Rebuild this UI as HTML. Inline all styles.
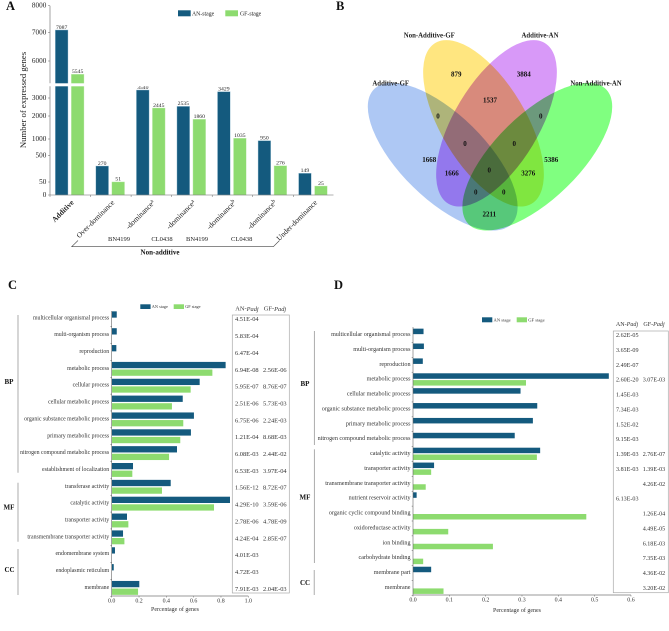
<!DOCTYPE html>
<html lang="en">
<head>
<meta charset="utf-8">
<title>Expressed genes figure</title>
<style>
html,body{margin:0;padding:0;background:#fff;width:669px;height:631px;overflow:hidden}
svg{display:block;font-family:"Liberation Serif",serif;filter:blur(0.35px)}
.venn-shape{mix-blend-mode:multiply}
.venn-num{font-size:7px;font-weight:bold;text-anchor:middle;dominant-baseline:central;fill:#111}
.venn-name{font-size:6.8px;font-weight:bold;text-anchor:middle;dominant-baseline:central;fill:#222}
.panel{font-size:12.5px;font-weight:bold;fill:#111}
.sub{font-size:6.5px;text-anchor:middle;dominant-baseline:central;fill:#222}
.pad-head{font-size:6.3px;text-anchor:middle;dominant-baseline:central;fill:#333}
</style>
</head>
<body>
<svg id="figure" width="669" height="631" viewBox="0 0 669 631" xmlns="http://www.w3.org/2000/svg">
  <rect width="669" height="631" fill="#fff"/>

  <text class="panel" x="6" y="10">A</text>
  <text class="panel" x="336" y="10">B</text>
  <text class="panel" x="8" y="289">C</text>
  <text class="panel" x="334" y="289">D</text>

  <g id="panel-a"></g>
  <text transform="translate(26,100) rotate(-90)" font-size="8.7" text-anchor="middle" fill="#222">Number of expressed genes</text>
  <rect x="178" y="10.3" width="12.7" height="6" fill="#145a7e"/>
  <text x="192" y="15.5" font-size="5.8" fill="#222">AN-stage</text>
  <rect x="225.3" y="10.3" width="12.7" height="6" fill="#8ddb6f"/>
  <text x="240" y="15.5" font-size="5.8" fill="#222">GF-stage</text>
  <text class="sub" x="119" y="239.3">BN4199</text>
  <text class="sub" x="162" y="239.3">CL0438</text>
  <text class="sub" x="197" y="239.3">BN4199</text>
  <text class="sub" x="241.7" y="239.3">CL0438</text>
  <path d="M78 240.5L71.7 246.7H273.3L279.5 240.5" fill="none" stroke="#444" stroke-width="0.6"/>
  <text x="160" y="252.7" font-size="7" font-weight="bold" text-anchor="middle" dominant-baseline="central" fill="#111">Non-additive</text>

  <g id="venn" style="isolation:isolate">
    <ellipse class="venn-shape" cx="442.7" cy="156.7" rx="96.3" ry="42.3" transform="rotate(44.4 442.7 156.7)" fill="#aec8f4"/>
    <ellipse class="venn-shape" cx="483.5" cy="123.3" rx="93.7" ry="42.3" transform="rotate(59 483.5 123.3)" fill="#ffe680"/>
    <ellipse class="venn-shape" cx="496.5" cy="123.3" rx="93.7" ry="42.3" transform="rotate(-59 496.5 123.3)" fill="#d899f8"/>
    <ellipse class="venn-shape" cx="537.3" cy="156.7" rx="96.3" ry="42.3" transform="rotate(-44.4 537.3 156.7)" fill="#80ff80"/>
  </g>
  <text class="venn-name" x="429.3" y="36">Non-Additive-GF</text>
  <text class="venn-name" x="540" y="36">Additive-AN</text>
  <text class="venn-name" x="390.7" y="84">Additive-GF</text>
  <text class="venn-name" x="596" y="84">Non-Additive-AN</text>
  <text class="venn-num" x="456.3" y="74.7">879</text>
  <text class="venn-num" x="523.7" y="74.7">3884</text>
  <text class="venn-num" x="490" y="100.7">1537</text>
  <text class="venn-num" x="438" y="116.7">0</text>
  <text class="venn-num" x="540.7" y="116.7">0</text>
  <text class="venn-num" x="465" y="144">0</text>
  <text class="venn-num" x="514.3" y="144">0</text>
  <text class="venn-num" x="429.3" y="160">1668</text>
  <text class="venn-num" x="551.3" y="160">5386</text>
  <text class="venn-num" x="489.3" y="170.3">0</text>
  <text class="venn-num" x="451.7" y="173.3">1666</text>
  <text class="venn-num" x="528.3" y="173.3">3276</text>
  <text class="venn-num" x="475.7" y="192.7">0</text>
  <text class="venn-num" x="503.7" y="192.7">0</text>
  <text class="venn-num" x="489.3" y="214.7">2211</text>

  <g id="panel-c"></g>
  <g id="panel-d"></g>
</svg>

<script>
// Panel A data
const aGroups = ['Additive', 'Over-dominance', '-dominance', '-dominance', '-dominance', '-dominance', 'Under-dominance'];
const aSuperscripts = ['', '', 'a', 'a', 'b', 'b', ''];
const aAnValues = [7087, 270, 3540, 2535, 3429, 950, 149];
const aGfValues = [5545, 51, 2445, 1860, 1035, 276, 25];
const aYTicks = [0, 50, 500, 1000, 2000, 3000, 6000, 7000, 8000];

// Panel C data
const cCategories = ['multicellular organismal process', 'multi-organism process', 'reproduction', 'metabolic process', 'cellular process', 'cellular metabolic process', 'organic substance metabolic process', 'primary metabolic process', 'nitrogen compound metabolic process', 'establishment of localization', 'transferase activity', 'catalytic activity', 'transporter activity', 'transmembrane transporter activity', 'endomembrane system', 'endoplasmic reticulum', 'membrane'];
const cAnValues = [0.037, 0.037, 0.034, 0.834, 0.644, 0.52, 0.602, 0.58, 0.478, 0.156, 0.432, 0.866, 0.112, 0.083, 0.024, 0.015, 0.202];
const cGfValues = [null, null, null, 0.737, 0.578, 0.441, 0.524, 0.502, 0.42, 0.151, 0.368, 0.749, 0.122, 0.093, null, null, 0.193];
const cAnPadj = ['4.51E-04', '5.83E-04', '6.47E-04', '6.94E-08', '5.95E-07', '2.51E-06', '6.75E-06', '1.21E-04', '6.08E-03', '6.53E-03', '1.56E-12', '4.29E-10', '2.78E-06', '4.24E-04', '4.01E-03', '4.72E-03', '7.91E-03'];
const cGfPadj = ['', '', '', '2.56E-06', '8.76E-07', '5.73E-03', '2.24E-03', '8.68E-03', '2.44E-02', '3.97E-04', '8.72E-07', '3.59E-06', '4.78E-09', '2.85E-07', '', '', '2.04E-03'];
const cXTicks = [0, 0.2, 0.4, 0.6, 0.8, 1];

// Panel D data
const dCategories = ['multicellular organismal process', 'multi-organism process', 'reproduction', 'metabolic process', 'cellular metabolic process', 'organic substance metabolic process', 'primary metabolic process', 'nitrogen compound metabolic process', 'catalytic activity', 'transporter activity', 'transmembrane transporter activity', 'nutrient reservoir activity', 'organic cyclic compound binding', 'oxidoreductase activity', 'ion binding', 'carbohydrate binding', 'membrane part', 'membrane'];
const dAnValues = [0.029, 0.03, 0.027, 0.539, 0.296, 0.342, 0.33, 0.28, 0.35, 0.058, null, 0.01, null, null, null, null, 0.05, null];
const dGfValues = [null, null, null, 0.311, null, null, null, null, 0.341, 0.05, 0.035, null, 0.477, 0.097, 0.22, 0.028, null, 0.084];
const dAnPadj = ['2.62E-05', '3.65E-09', '2.49E-07', '2.60E-20', '1.45E-03', '7.34E-03', '1.52E-02', '9.15E-03', '1.39E-03', '3.81E-03', '', '6.13E-03', '', '', '', '', '', ''];
const dGfPadj = ['', '', '', '3.07E-03', '', '', '', '', '2.76E-07', '1.39E-03', '4.26E-02', '', '1.26E-04', '4.49E-05', '6.18E-03', '7.35E-03', '4.36E-02', '3.20E-02'];
const dXTicks = [0, 0.1, 0.2, 0.3, 0.4, 0.5, 0.6];

const AN_COLOR = '#145a7e';
const GF_COLOR = '#8ddb6f';
const NS = 'http://www.w3.org/2000/svg';

function make(parent, tag, attrs, txt) {
  const el = document.createElementNS(NS, tag);
  for (const k in attrs) el.setAttribute(k, attrs[k]);
  if (txt !== undefined) el.textContent = txt;
  parent.appendChild(el);
  return el;
}

// Broken, non-linear count axis of panel A (piecewise linear between knots)
function aY(v) {
  const vs = [0, 25, 50, 149, 270, 500, 1000, 2000, 3000, 3540, 3700, 5230, 6000, 7000, 8000];
  const ys = [195, 186, 182, 173.3, 166, 155.3, 139, 116, 98, 90, 86.3, 83.3, 61, 32.3, 5.7];
  if (v <= vs[0]) return ys[0];
  for (let i = 1; i < vs.length; i++) {
    if (v <= vs[i]) return ys[i - 1] + (v - vs[i - 1]) / (vs[i] - vs[i - 1]) * (ys[i] - ys[i - 1]);
  }
  return ys[ys.length - 1];
}
function aX(groupIndex) {
  return 55.3 + groupIndex * 40.55;
}

function drawPanelA() {
  const g = document.getElementById('panel-a');
  const barW = 12.7;
  aGroups.forEach(function (name, i) {
    const x0 = aX(i);
    [[aAnValues[i], x0, AN_COLOR, '#a9cbdc'], [aGfValues[i], x0 + 16, GF_COLOR, '#cdeec0']].forEach(function (b) {
      const top = aY(b[0]);
      const bar = make(g, 'rect', { x: b[1], y: top, width: barW, height: 195 - top, fill: b[2], stroke: b[3], 'stroke-width': 0.4 });
      
      
      const val = make(g, 'text', { x: b[1] + barW / 2, y: top - 1.2, 'font-size': 5.7, 'text-anchor': 'middle', fill: '#222' }, String(b[0]));
      
      
    });
    const ex = x0 + 19;
    const label = make(g, 'text', { transform: 'translate(' + ex + ',203) rotate(-45)', 'font-size': 7.5, 'text-anchor': 'end', fill: '#222', 'font-weight': i === 0 ? 'bold' : 'normal' }, name);
    
    
    if (aSuperscripts[i]) {
      make(label, 'tspan', { dy: -2.5, 'font-size': 5.5 }, aSuperscripts[i]);
    }
    const xt = make(g, 'line', { x1: x0 - 5.3, x2: x0 - 5.3, y1: 195, y2: 197, stroke: '#666', 'stroke-width': 0.5 });
    
    
  });
  const gap = make(g, 'rect', { x: 50, y: aY(5230), width: 284, height: aY(3700) - aY(5230), fill: '#fff' });
  
  
  const yAxisUpper = make(g, 'line', { x1: 50, x2: 50, y1: aY(8000), y2: aY(5230), stroke: '#666', 'stroke-width': 0.6 });
  
  
  const yAxisLower = make(g, 'line', { x1: 50, x2: 50, y1: aY(3700), y2: 195, stroke: '#666', 'stroke-width': 0.6 });
  
  
  const xAxis = make(g, 'line', { x1: 50, x2: 333.5, y1: 195, y2: 195, stroke: '#666', 'stroke-width': 0.6 });
  
  
  aYTicks.forEach(function (t) {
    const y = aY(t);
    const tick = make(g, 'line', { x1: 48, x2: 50, y1: y, y2: y, stroke: '#666', 'stroke-width': 0.5 });
    
    
    const lab = make(g, 'text', { x: 46.3, y: y, 'font-size': 7.2, 'text-anchor': 'end', 'dominant-baseline': 'central', fill: '#222' }, String(t));
    
    
  });
}

function drawGoPanel(id, categories, anValues, gfValues, anPadj, gfPadj, xTicks, o) {
  const g = document.getElementById(id);
  const x = function (v) { return o.x0 + v * o.xPerUnit; };
  const rowY = function (i) { return o.y0 + i * o.pitch; };

  categories.forEach(function (name, i) {
    const y = rowY(i);
    const lab = make(g, 'text', { x: o.x0 - 2.5, y: y, 'font-size': o.labelSize, 'text-anchor': 'end', 'dominant-baseline': 'central', fill: '#333' }, name);
    
    
    if (anValues[i] !== null) {
      const a = make(g, 'rect', { x: o.x0, y: y + o.anOffset - o.barH / 2, width: x(anValues[i]) - o.x0, height: o.barH, fill: AN_COLOR });
      
      
    }
    if (gfValues[i] !== null) {
      const b = make(g, 'rect', { x: o.x0, y: y + o.gfOffset - o.barH / 2, width: x(gfValues[i]) - o.x0, height: o.barH, fill: GF_COLOR });
      
      
    }
    const t = make(g, 'line', { x1: o.x0 - 1.3, x2: o.x0, y1: y + o.pitch / 2, y2: y + o.pitch / 2, stroke: '#555', 'stroke-width': 0.5 });
    
    
    if (anPadj[i]) {
      const p = make(g, 'text', { x: o.padjX1, y: y + o.padjDy, 'font-size': o.padjSize, 'dominant-baseline': 'central', fill: '#333' }, anPadj[i]);
      
      
    }
    if (gfPadj[i]) {
      const q = make(g, 'text', { x: o.padjX2, y: y + o.padjDy, 'font-size': o.padjSize, 'dominant-baseline': 'central', fill: '#333' }, gfPadj[i]);
      
      
    }
  });

  const yAxis = make(g, 'line', { x1: o.x0, x2: o.x0, y1: o.axisTop, y2: o.axisY, stroke: '#666', 'stroke-width': 0.6 });
  
  
  const xAxis = make(g, 'line', { x1: o.x0, x2: x(xTicks[xTicks.length - 1]), y1: o.axisY, y2: o.axisY, stroke: '#777', 'stroke-width': 0.7 });
  
  
  xTicks.forEach(function (t) {
    const tick = make(g, 'line', { x1: x(t), x2: x(t), y1: o.axisY, y2: o.axisY + 1.5, stroke: '#666', 'stroke-width': 0.5 });
    
    
    const lab = make(g, 'text', { x: x(t), y: o.tickLabelY, 'font-size': 5.9, 'text-anchor': 'middle', 'dominant-baseline': 'central', fill: '#333' }, t.toFixed(1));
    
    
  });
  const title = make(g, 'text', { x: o.titleX, y: o.titleY, 'font-size': 6, 'text-anchor': 'middle', 'dominant-baseline': 'central', fill: '#333' }, 'Percentage of genes');
  
  

  const box = make(g, 'rect', { x: o.boxX, y: o.boxY, width: o.boxW, height: o.boxH, fill: 'none', stroke: '#aaa', 'stroke-width': 0.7 });
  
  
  [['AN-', o.headX1, 'an-padj-header'], ['GF-', o.headX2, 'gf-padj-header']].forEach(function (h) {
    const head = make(g, 'text', { x: h[1], y: o.headY, 'font-size': o.padjSize, 'text-anchor': 'middle', 'dominant-baseline': 'central', fill: '#333' }, h[0]);
    make(head, 'tspan', { 'font-style': 'italic' }, 'Padj');
    
    
  });

  o.brackets.forEach(function (b) {
    const line = make(g, 'line', { x1: o.bracketX, x2: o.bracketX, y1: b[1], y2: b[2], stroke: b[5] || '#888', 'stroke-width': b[6] || 0.7 });
    
    
    const lab = make(g, 'text', { x: b[3], y: b[4], 'font-size': 7, 'font-weight': 'bold', 'text-anchor': 'middle', 'dominant-baseline': 'central', fill: '#111' }, b[0]);
    
    
  });

  [['AN stage', o.legendX1, AN_COLOR], ['GF stage', o.legendX2, GF_COLOR]].forEach(function (l) {
    const s = make(g, 'rect', { x: l[1], y: o.legendY, width: 10.3, height: o.legendH, fill: l[2] });
    
    
    const lt = make(g, 'text', { x: l[1] + 11.5, y: o.legendY + o.legendH / 2, 'font-size': o.legendSize, 'dominant-baseline': 'central', fill: '#333' }, l[0]);
    
    
  });
}

drawPanelA();

drawGoPanel('panel-c', cCategories, cAnValues, cGfValues, cAnPadj, cGfPadj, cXTicks, {
  x0: 111.7, xPerUnit: 136.6, y0: 318.3, pitch: 16.85, barH: 6.3, anOffset: -3.8, gfOffset: 3.8,
  labelSize: 5.85, padjSize: 6.4, padjX1: 235, padjX2: 263, padjDy: 1.4,
  axisTop: 311, axisY: 596, tickLabelY: 601.7, titleX: 175, titleY: 610,
  boxX: 232.3, boxY: 315, boxW: 57, boxH: 278, headX1: 247, headX2: 275, headY: 309,
  bracketX: 18,
  brackets: [['BP', 315, 472.7, 9, 382], ['MF', 482.7, 541.7, 9, 507.7], ['CC', 549, 595, 9.5, 570]],
  legendX1: 140.3, legendX2: 173.7, legendY: 304.3, legendH: 4.7, legendSize: 4.3
});

drawGoPanel('panel-d', dCategories, dAnValues, dGfValues, dAnPadj, dGfPadj, dXTicks, {
  x0: 413, xPerUnit: 363.3, y0: 335, pitch: 14.88, barH: 5.5, anOffset: -3.6, gfOffset: 3.2,
  labelSize: 6.1, padjSize: 6.1, padjX1: 616, padjX2: 642.7, padjDy: 1,
  axisTop: 327, axisY: 595, tickLabelY: 600.5, titleX: 517, titleY: 611,
  boxX: 613.3, boxY: 331, boxW: 55, boxH: 261.7, headX1: 627, headX2: 654, headY: 325,
  bracketX: 314.3,
  brackets: [['BP', 331, 445, 305, 384], ['MF', 449.3, 563, 305, 497.7], ['CC', 570, 595, 305, 583, '#bbb', 1.2]],
  legendX1: 482, legendX2: 516.7, legendY: 317.3, legendH: 5, legendSize: 4.6
});
</script>
</body>
</html>
